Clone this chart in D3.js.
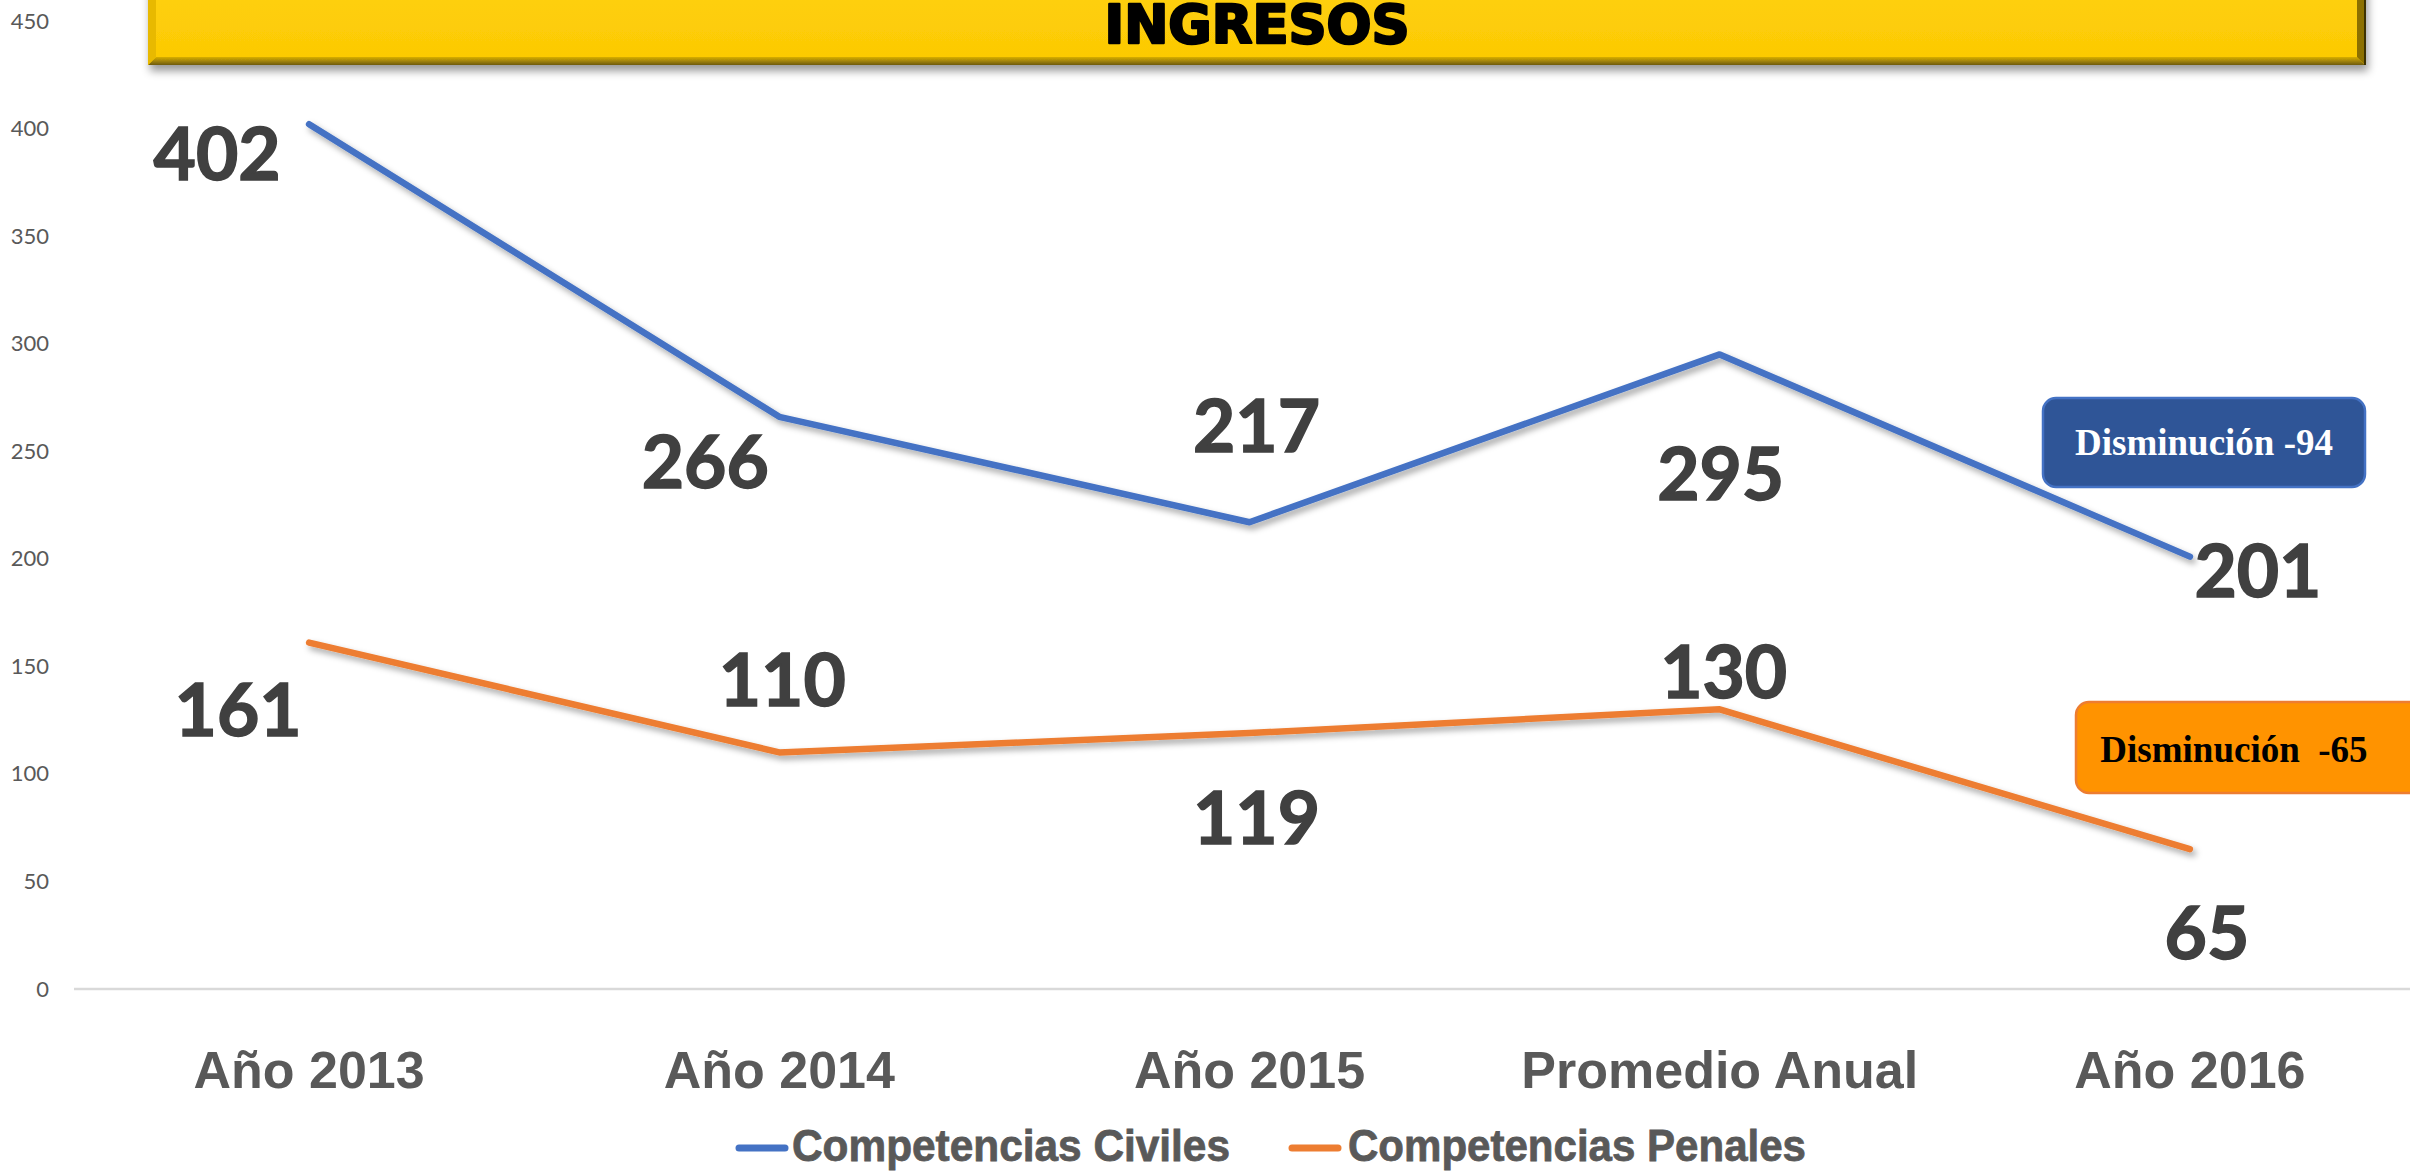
<!DOCTYPE html>
<html>
<head>
<meta charset="utf-8">
<script src="https://cdn.jsdelivr.net/npm/d3@7"></script>
<style>
  html, body { margin: 0; padding: 0; background: #fff; overflow: hidden; }
</style>
</head>
<body>
<div id="chart"></div>
<script>
// Data
const categories = ['Año 2013', 'Año 2014', 'Año 2015', 'Promedio Anual', 'Año 2016'];
const civiles = [402, 266, 217, 295, 201];
const penales = [161, 110, 119, 130, 65];
const yTicks = [0, 50, 100, 150, 200, 250, 300, 350, 400, 450];
const seriesNames = ['Competencias Civiles', 'Competencias Penales'];
const title = 'INGRESOS';
const notes = ['Disminución -94', 'Disminución  -65'];

// label nudges (px) relative to each point, hand placed like the original
const civilesNudge = [[-92, 28], [-74, 43], [7, -98], [1, 118], [68, 12]];
const penalesNudge = [[-71, 65], [3, -74], [7, 83], [4, -39], [17, 82]];

let width = 2410,
  height = 1173;
const colors = ['#4472C4', '#ED7D31'];

const svg = d3
  .select('#chart')
  .append('svg')
  .attr('xmlns', 'http://www.w3.org/2000/svg')
  .attr('width', width)
  .attr('height', height);

const defs = svg.append('defs');

const lineShadow = defs.append('filter').attr('id', 'lineShadow')
  .attr('x', '-5%').attr('y', '-20%').attr('width', '110%').attr('height', '140%');
lineShadow.append('feDropShadow')
  .attr('dx', 3).attr('dy', 4).attr('stdDeviation', 3)
  .attr('flood-color', '#000').attr('flood-opacity', 0.35);

const boxShadow = defs.append('filter').attr('id', 'boxShadow')
  .attr('x', '-5%').attr('y', '-50%').attr('width', '110%').attr('height', '200%');
boxShadow.append('feDropShadow')
  .attr('dx', 2).attr('dy', 6).attr('stdDeviation', 4)
  .attr('flood-color', '#000').attr('flood-opacity', 0.4);

const goldFace = defs.append('linearGradient').attr('id', 'goldFace')
  .attr('x1', 0).attr('y1', 0).attr('x2', 0).attr('y2', 1);
goldFace.append('stop').attr('offset', '0%').attr('stop-color', '#FFD20C');
goldFace.append('stop').attr('offset', '100%').attr('stop-color', '#FCC904');

const goldBottom = defs.append('linearGradient').attr('id', 'goldBottom')
  .attr('x1', 0).attr('y1', 0).attr('x2', 0).attr('y2', 1);
goldBottom.append('stop').attr('offset', '0%').attr('stop-color', '#D8AE02');
goldBottom.append('stop').attr('offset', '100%').attr('stop-color', '#6E5A10');

// Scales
const x = d3.scalePoint().domain(categories).range([74, 2425]).padding(0.5);
const y = d3.scaleLinear().domain([0, 450]).range([989, 21]);

// Y axis (labels only)
const yAxis = svg.append('g')
  .attr('transform', 'translate(74,0)')
  .call(d3.axisLeft(y).tickValues(yTicks).tickSize(0).tickPadding(25));
yAxis.select('.domain').remove();
yAxis.selectAll('text')
  .attr('fill', '#595959')
  .style('font-family', 'Lato, "Open Sans", sans-serif')
  .style('font-size', '22px');

// baseline grid line at zero
svg.append('line')
  .attr('x1', 74).attr('x2', width)
  .attr('y1', y(0)).attr('y2', y(0))
  .attr('stroke', '#D9D9D9')
  .attr('stroke-width', 2.5);

// Category labels
svg.append('g')
  .selectAll('text')
  .data(categories)
  .join('text')
  .attr('x', (d) => x(d))
  .attr('y', 1088)
  .attr('text-anchor', 'middle')
  .attr('fill', '#595959')
  .style('font-family', '"Liberation Sans", Arial, sans-serif')
  .style('font-weight', 'bold')
  .style('font-size', '52px')
  .text((d) => d);

// Title banner
const banner = svg.append('g').attr('filter', 'url(#boxShadow)');
const bx0 = 148, bx1 = 2365, by0 = -30, by1 = 65, bev = 8;
banner.append('rect')
  .attr('x', bx0).attr('y', by0)
  .attr('width', bx1 - bx0).attr('height', by1 - by0)
  .attr('fill', 'url(#goldFace)');
banner.append('polygon')
  .attr('points', [[bx0, by1], [bx1, by1], [bx1 - bev, by1 - bev], [bx0 + bev, by1 - bev]].join(' '))
  .attr('fill', 'url(#goldBottom)');
banner.append('polygon')
  .attr('points', [[bx0, by0], [bx0 + bev, by0], [bx0 + bev, by1 - bev], [bx0, by1]].join(' '))
  .attr('fill', '#E8B900');
banner.append('polygon')
  .attr('points', [[bx1, by0], [bx1 - bev, by0], [bx1 - bev, by1 - bev], [bx1, by1]].join(' '))
  .attr('fill', '#8C7006');
banner.append('line')
  .attr('x1', bx1).attr('x2', bx1).attr('y1', by0).attr('y2', by1)
  .attr('stroke', '#3D3306').attr('stroke-width', 2);
svg.append('text')
  .attr('x', 1257)
  .attr('y', 43)
  .attr('text-anchor', 'middle')
  .attr('textLength', 305)
  .attr('lengthAdjust', 'spacingAndGlyphs')
  .attr('fill', '#000')
  .attr('stroke', '#000')
  .attr('stroke-width', 2.5)
  .attr('stroke-linejoin', 'round')
  .style('font-family', '"DejaVu Sans", "Liberation Sans", sans-serif')
  .style('font-weight', 'bold')
  .style('font-size', '53px')
  .text(title);

// Lines
const line = d3.line()
  .x((d, i) => x(categories[i]))
  .y((d) => y(d));

const allSeries = [civiles, penales];
svg.append('g')
  .selectAll('path')
  .data(allSeries)
  .join('path')
  .attr('d', (d) => line(d))
  .attr('fill', 'none')
  .attr('stroke', (d, i) => colors[i])
  .attr('stroke-width', 6.5)
  .attr('stroke-linecap', 'round')
  .attr('stroke-linejoin', 'round')
  .attr('filter', 'url(#lineShadow)');

// Data labels
const nudges = [civilesNudge, penalesNudge];
allSeries.forEach((vals, s) => {
  svg.append('g')
    .selectAll('text')
    .data(vals)
    .join('text')
    .attr('x', (d, i) => x(categories[i]) + nudges[s][i][0])
    .attr('y', (d, i) => y(d) + nudges[s][i][1])
    .attr('text-anchor', 'middle')
    .attr('dominant-baseline', 'central')
    .attr('fill', '#404040')
    .attr('stroke', '#404040')
    .attr('stroke-width', 1.5)
    .style('font-family', 'Lato, Carlito, sans-serif')
    .style('font-weight', 'bold')
    .style('font-size', '73px')
    .text((d) => d);
});

// Callout boxes
const callouts = [
  { x0: 2043, y0: 398, x1: 2365, y1: 487, fill: '#2F5597', stroke: '#4472C4', text: '#FFFFFF', tx: 2204, ty: 455 },
  { x0: 2076, y0: 702, x1: 2430, y1: 793, fill: '#FF9300', stroke: '#ED7D31', text: '#000000', tx: 2234, ty: 762 },
];
callouts.forEach((c, i) => {
  svg.append('rect')
    .attr('x', c.x0).attr('y', c.y0)
    .attr('width', c.x1 - c.x0).attr('height', c.y1 - c.y0)
    .attr('rx', 13)
    .attr('fill', c.fill)
    .attr('stroke', c.stroke)
    .attr('stroke-width', 2.5);
  svg.append('text')
    .attr('x', c.tx).attr('y', c.ty)
    .attr('text-anchor', 'middle')
    .attr('fill', c.text)
    .style('white-space', 'pre')
    .style('font-family', '"Liberation Serif", "Times New Roman", serif')
    .style('font-weight', 'bold')
    .style('font-size', '37px')
    .text(notes[i]);
});

// Legend
const legendItems = [
  { x0: 735, x1: 789, tx: 792, tw: 438 },
  { x0: 1288, x1: 1342, tx: 1348, tw: 458 },
];
const legend = svg.append('g');
legendItems.forEach((l, i) => {
  legend.append('line')
    .attr('x1', l.x0 + 4).attr('x2', l.x1 - 4)
    .attr('y1', 1148).attr('y2', 1148)
    .attr('stroke', colors[i])
    .attr('stroke-width', 7)
    .attr('stroke-linecap', 'round');
  legend.append('text')
    .attr('x', l.tx).attr('y', 1161)
    .attr('textLength', l.tw)
    .attr('lengthAdjust', 'spacingAndGlyphs')
    .attr('fill', '#595959')
    .attr('stroke', '#595959')
    .attr('stroke-width', 0.8)
    .style('font-family', '"Liberation Sans", Arial, sans-serif')
    .style('font-weight', 'bold')
    .style('font-size', '44px')
    .text(seriesNames[i]);
});
</script>
</body>
</html>
